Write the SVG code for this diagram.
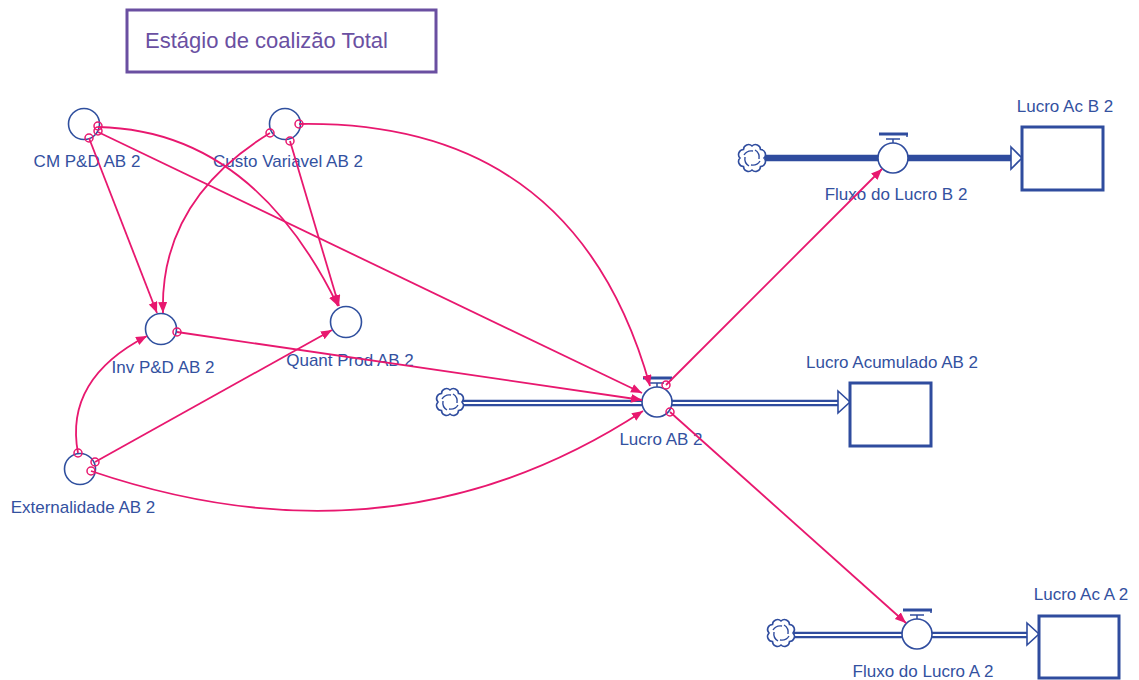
<svg xmlns="http://www.w3.org/2000/svg" width="1139" height="680" viewBox="0 0 1139 680">
<style>
.lbl{font-family:"Liberation Sans",Arial,sans-serif;font-size:17px;fill:#33519f;text-anchor:middle}
.aux{fill:none;stroke:#2f4f9e;stroke-width:1.6}
.stock{fill:#fff;stroke:#2f4c9e;stroke-width:3}
.lnk{fill:none;stroke:#e8186f;stroke-width:1.8}
.org{fill:none;stroke:#e8186f;stroke-width:1.5}
.pipeo{stroke:#2f4c9e;stroke-width:6.5;fill:none}
.pipei{stroke:#fff;stroke-width:1.8;fill:none}
.blue{stroke:#2f4c9e;fill:none}
</style>
<defs>
<marker id="ah" markerUnits="userSpaceOnUse" markerWidth="12" markerHeight="10" refX="11" refY="4.5" orient="auto">
<path d="M0,0 L11,4.5 L0,9 z" fill="#e8186f"/>
</marker>
<g id="cloud">
<path class="blue" stroke-width="1.6" fill="#fff" d="M12,0 A5,5 0 0 1 8.49,8.49 A5,5 0 0 1 0,12 A5,5 0 0 1 -8.49,8.49 A5,5 0 0 1 -12,0 A5,5 0 0 1 -8.49,-8.49 A5,5 0 0 1 0,-12 A5,5 0 0 1 8.49,-8.49 A5,5 0 0 1 12,0 z"/>
<path class="blue" stroke-width="1.4" d="M-8,-3 Q-5,-8 1,-7 M3,-8 Q8,-5 7,1 M8,3 Q5,8 -1,7 M-3,8 Q-8,5 -7,-1"/>
</g>
<g id="valve">
<circle r="15" fill="#fff" stroke="#2f4c9e" stroke-width="1.6"/>
<path class="blue" stroke-width="3" d="M-14,-24 H15"/>
<path class="blue" stroke-width="1.5" d="M14,-24 V-21 M-7,-19 H7 M0,-19 V-15"/>
</g>
</defs>
<rect width="1139" height="680" fill="#fff"/>

<g id="title">
<rect x="127" y="10" width="309" height="62" fill="#fff" stroke="#6a4fa1" stroke-width="3"/>
<text x="145" y="48" font-family="Liberation Sans,Arial,sans-serif" font-size="22" fill="#6a50a2">Estágio de coalizão Total</text>
</g>

<g id="flows">
<g id="flow-lucro-ab2">
<path class="pipeo" d="M463,403 H839"/>
<path class="pipei" d="M463,403 H839"/>
<path d="M838,391 L850,402 L838,413 z" fill="#fff" stroke="#2f4c9e" stroke-width="1.6"/>
<use href="#cloud" x="450" y="402"/>
<use href="#valve" x="657" y="402"/>
<text class="lbl" x="661" y="445">Lucro AB 2</text>
</g>
<g id="flow-lucro-b2">
<path class="pipeo" d="M765,158 H1011" stroke-width="7"/>
<path d="M1011,147 L1022,158 L1011,169 z" fill="#fff" stroke="#2f4c9e" stroke-width="1.6"/>
<use href="#cloud" x="752" y="158"/>
<use href="#valve" x="893" y="158"/>
<text class="lbl" x="896" y="200">Fluxo do Lucro B 2</text>
</g>
<g id="flow-lucro-a2">
<path class="pipeo" d="M794,635 H1028"/>
<path class="pipei" d="M794,635 H1028"/>
<path d="M1027,623 L1039,634 L1027,645 z" fill="#fff" stroke="#2f4c9e" stroke-width="1.6"/>
<use href="#cloud" x="781" y="633"/>
<use href="#valve" x="917" y="634"/>
<text class="lbl" x="923" y="677">Fluxo do Lucro A 2</text>
</g>
</g>

<g id="stock-lucro-acumulado">
<rect class="stock" x="850" y="383" width="81" height="63"/>
<text class="lbl" x="892" y="368">Lucro Acumulado AB 2</text>
</g>
<g id="stock-lucro-ac-b2">
<rect class="stock" x="1022" y="127" width="81" height="63"/>
<text class="lbl" x="1065" y="112">Lucro Ac B 2</text>
</g>
<g id="stock-lucro-ac-a2">
<rect class="stock" x="1039" y="616" width="80" height="62"/>
<text class="lbl" x="1081" y="600">Lucro Ac A 2</text>
</g>

<g id="cm-pd">
<circle class="aux" cx="84" cy="124" r="15.5"/>
<text class="lbl" x="87" y="167">CM P&amp;D AB 2</text>
</g>
<g id="custo-variavel">
<circle class="aux" cx="285" cy="124" r="15.5"/>
<text class="lbl" x="288" y="167">Custo Variavel AB 2</text>
</g>
<g id="inv-pd">
<circle class="aux" cx="161" cy="329" r="15.5"/>
<text class="lbl" x="163" y="373">Inv  P&amp;D AB 2</text>
</g>
<g id="quant-prod">
<circle class="aux" cx="346" cy="322" r="15.5"/>
<text class="lbl" x="350" y="366">Quant Prod AB 2</text>
</g>
<g id="externalidade">
<circle class="aux" cx="80" cy="469" r="15.5"/>
<text class="lbl" x="83" y="513">Externalidade AB 2</text>
</g>

<g id="connectors">
<path class="lnk" marker-end="url(#ah)" d="M89,138 L157,313"/>
<path class="lnk" marker-end="url(#ah)" d="M98,127 Q252,130 338,306"/>
<path class="lnk" marker-end="url(#ah)" d="M98,132 L642,393"/>
<path class="lnk" marker-end="url(#ah)" d="M270,133 Q159.5,200.5 163,313"/>
<path class="lnk" marker-end="url(#ah)" d="M290,141 L339,306"/>
<path class="lnk" marker-end="url(#ah)" d="M299,124 Q575.5,119.5 650,386"/>
<path class="lnk" marker-end="url(#ah)" d="M177,332 L642,400"/>
<path class="lnk" marker-end="url(#ah)" d="M78,453 Q64,379 147,336"/>
<path class="lnk" marker-end="url(#ah)" d="M95,462 L332,330"/>
<path class="lnk" marker-end="url(#ah)" d="M91,471 Q394,574 643,411"/>
<path class="lnk" marker-end="url(#ah)" d="M666,385 L882,169"/>
<path class="lnk" marker-end="url(#ah)" d="M670,412 L906,623"/>
<circle class="org" cx="89" cy="138" r="4"/>
<circle class="org" cx="98" cy="126" r="4"/>
<circle class="org" cx="98" cy="131" r="4"/>
<circle class="org" cx="270" cy="133" r="4"/>
<circle class="org" cx="290" cy="141" r="4"/>
<circle class="org" cx="299" cy="124" r="4"/>
<circle class="org" cx="177" cy="332" r="4"/>
<circle class="org" cx="78" cy="453" r="4"/>
<circle class="org" cx="95" cy="462" r="4"/>
<circle class="org" cx="91" cy="471" r="4"/>
<circle class="org" cx="666" cy="385" r="4"/>
<circle class="org" cx="670" cy="412" r="4"/>
</g>
</svg>
